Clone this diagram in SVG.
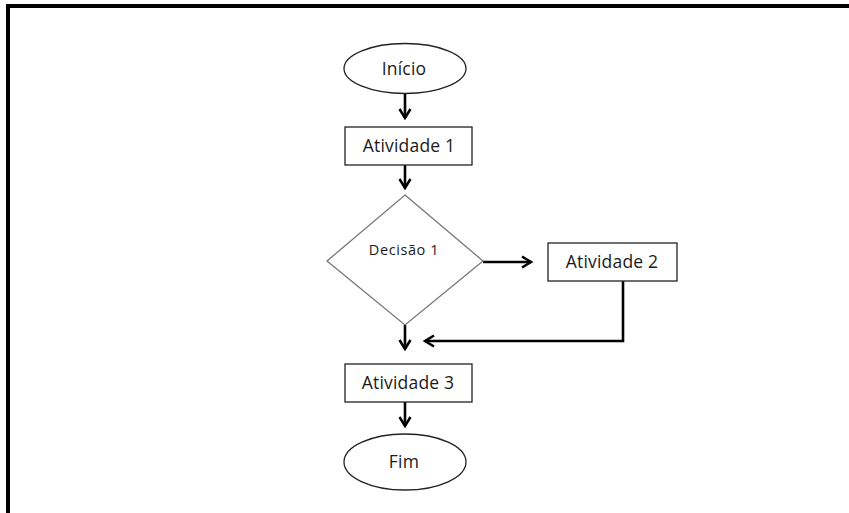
<svg xmlns="http://www.w3.org/2000/svg" width="849" height="513" viewBox="0 0 849 513">
  <style>
    .shape { fill: #ffffff; stroke: #222222; stroke-width: 1.3; }
    .diamond { fill: #ffffff; stroke: #777777; stroke-width: 1.3; }
    .label { font-family: "Open Sans", "Noto Sans", sans-serif; font-size: 17.5px; fill: #1a1a1a; text-anchor: middle; dominant-baseline: central; letter-spacing: 0.2px; }
    .small { font-size: 14.5px; letter-spacing: 0.6px; }
    .edge { fill: none; stroke: #000000; stroke-width: 2.6; }
  </style>
  <defs>
    <marker id="arrow" viewBox="0 0 14 14" refX="12" refY="7" markerWidth="14" markerHeight="14" markerUnits="userSpaceOnUse" orient="auto">
      <path d="M3,1.5 L12,7 L3,12.5" fill="none" stroke="#000" stroke-width="2.5"/>
    </marker>
  </defs>

  <rect width="849" height="513" fill="#ffffff"/>

  <!-- frame: top and left edges only -->
  <g id="frame">
    <line x1="6" y1="6" x2="849" y2="6" stroke="#000" stroke-width="4"/>
    <line x1="8" y1="4" x2="8" y2="513" stroke="#000" stroke-width="4"/>
  </g>

  <g id="connectors">
    <line class="edge" x1="405" y1="93" x2="405" y2="118" marker-end="url(#arrow)"/>
    <line class="edge" x1="405" y1="165" x2="405" y2="188" marker-end="url(#arrow)"/>
    <line class="edge" x1="483" y1="262" x2="531" y2="262" marker-end="url(#arrow)"/>
    <polyline class="edge" points="623,281 623,341 425,341" marker-end="url(#arrow)"/>
    <line class="edge" x1="405" y1="325" x2="405" y2="349" marker-end="url(#arrow)"/>
    <line class="edge" x1="405" y1="402" x2="405" y2="426" marker-end="url(#arrow)"/>
  </g>

  <g id="inicio">
    <ellipse class="shape" cx="405" cy="68.5" rx="61" ry="25"/>
    <text class="label" x="404" y="68">Início</text>
  </g>

  <g id="atividade1">
    <rect class="shape" x="345" y="127" width="127" height="38"/>
    <text class="label" x="409" y="145">Atividade 1</text>
  </g>

  <g id="decisao1">
    <polygon class="diamond" points="405,195 483,261 405,325 327,261"/>
    <text class="label small" x="404" y="249">Decisão 1</text>
  </g>

  <g id="atividade2">
    <rect class="shape" x="548" y="243" width="129" height="38"/>
    <text class="label" x="612" y="261">Atividade 2</text>
  </g>

  <g id="atividade3">
    <rect class="shape" x="345" y="364" width="127" height="38"/>
    <text class="label" x="408" y="382">Atividade 3</text>
  </g>

  <g id="fim">
    <ellipse class="shape" cx="405" cy="462" rx="61" ry="28"/>
    <text class="label" x="404" y="461">Fim</text>
  </g>
</svg>
